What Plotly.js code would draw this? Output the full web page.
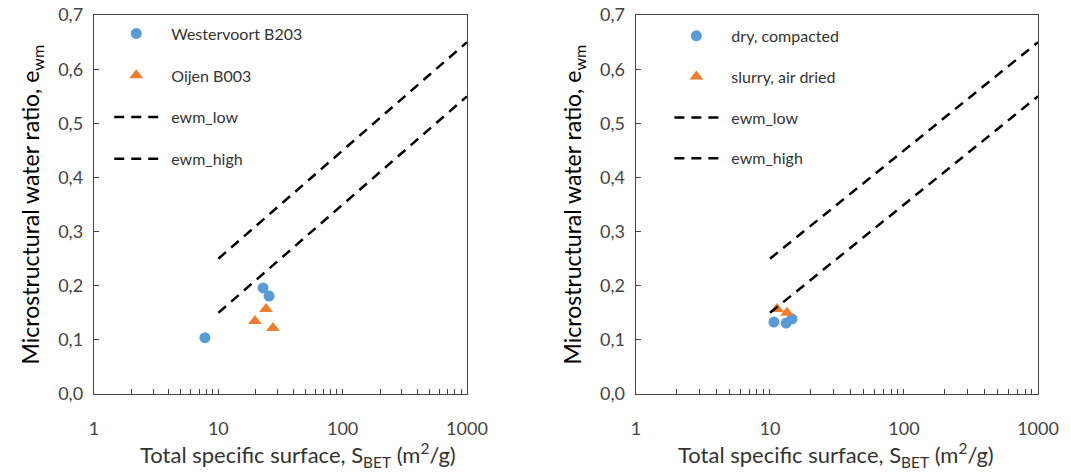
<!DOCTYPE html>
<html>
<head>
<meta charset="utf-8">
<script src="https://cdn.plot.ly/plotly-3.0.1.min.js"></script>
<style>html,body{margin:0;padding:0;background:#fff;}#chart{width:1071px;height:473px;}</style>
</head>
<body>
<div id="chart"></div>
<script>
// Left panel data
const westervoortX = [7.8, 22.9, 25.6];
const westervoortY = [0.104, 0.196, 0.181];
const oijenX = [24.2, 19.7, 27.5];
const oijenY = [0.157, 0.135, 0.122];
// Right panel data
const dryX = [10.7, 13.2, 14.6];
const dryY = [0.133, 0.131, 0.139];
const slurryX = [11.3, 13.4];
const slurryY = [0.157, 0.150];
// Reference lines
const ewmX = [10, 1000];
const ewmLowY = [0.25, 0.65];
const ewmHighY = [0.15, 0.55];
// Tick labels
const xTickVals = [1, 10, 100, 1000];
const xTickText = ['1', '10', '100', '1000'];
const yTickVals = [0, 0.1, 0.2, 0.3, 0.4, 0.5, 0.6, 0.7];
const xTitle = 'Total specific surface, S<sub>BET</sub> (m<sup>2</sup>/g)';
const yTitle = 'Microstructural water ratio, e<sub>wm</sub>';

const blue = '#5B9BD5', orange = '#ED7D31';
const FONT = 'Lato, "Open Sans", sans-serif';
const SP = '\u2002';

function pts(x, y, name, sym, color, size, xa, ya, leg, grp) {
  return {x, y, name: SP + name, type: 'scatter', mode: 'markers', xaxis: xa, yaxis: ya, legend: leg, legendgroup: grp,
    marker: {symbol: sym, color, size, line: {width: 0}}};
}
function line(x, y, name, xa, ya, leg, grp) {
  return {x, y, name: SP + name, type: 'scatter', mode: 'lines', xaxis: xa, yaxis: ya, legend: leg, legendgroup: grp,
    line: {color: '#000', width: 2.5, dash: '10px,7px'}};
}

const data = [
  pts(westervoortX, westervoortY, 'Westervoort B203', 'circle', blue, 11, 'x', 'y', 'legend', 'a1'),
  pts(oijenX, oijenY, 'Oijen B003', 'triangle-up', orange, 12, 'x', 'y', 'legend', 'a2'),
  line(ewmX, ewmLowY, 'ewm_low', 'x', 'y', 'legend', 'a3'),
  line(ewmX, ewmHighY, 'ewm_high', 'x', 'y', 'legend', 'a4'),
  pts(dryX, dryY, 'dry, compacted', 'circle', blue, 11, 'x2', 'y2', 'legend2', 'b1'),
  pts(slurryX, slurryY, 'slurry, air dried', 'triangle-up', orange, 12, 'x2', 'y2', 'legend2', 'b2'),
  line(ewmX, ewmLowY, 'ewm_low', 'x2', 'y2', 'legend2', 'b3'),
  line(ewmX, ewmHighY, 'ewm_high', 'x2', 'y2', 'legend2', 'b4')
];

function xaxis(domain, anchor) {
  return {
    type: 'log', domain, anchor, range: [0, 3], tickvals: xTickVals, ticktext: xTickText,
    ticks: 'inside', ticklen: 5, tickcolor: '#444', showline: true, linecolor: '#444', linewidth: 1.3, mirror: true,
    showgrid: false, zeroline: false, automargin: false, ticklabelstandoff: 18,
    minor: {ticks: 'inside', ticklen: 5, tickcolor: '#444', dtick: 'D1', showgrid: false},
    tickfont: {family: FONT, size: 18, color: '#444'}
  };
}
function yaxis(domain, anchor) {
  return {
    domain, anchor, range: [0, 0.7], tickvals: yTickVals, tickformat: '.1f',
    ticks: 'inside', ticklen: 5, tickcolor: '#444', showline: true, linecolor: '#444', linewidth: 1.3, mirror: true,
    showgrid: false, zeroline: false, automargin: false, ticklabelstandoff: 6,
    tickfont: {family: FONT, size: 18, color: '#444'},
    title: {text: yTitle, font: {family: FONT, size: 23, color: '#000'}, standoff: 12}
  };
}

const legendBase = {
  bgcolor: 'rgba(0,0,0,0)', borderwidth: 0, itemwidth: 44,
  font: {family: FONT, size: 16, color: '#333'}, xanchor: 'left', yanchor: 'top'
};

const titleFont = {family: FONT, size: 22, color: '#333'};

const layout = {
  width: 1071, height: 473,
  margin: {l: 0, r: 0, t: 0, b: 0},
  paper_bgcolor: '#fff', plot_bgcolor: '#fff',
  separators: ',.',
  showlegend: true,
  xaxis: xaxis([0.0878, 0.4360], 'y'),
  yaxis: yaxis([0.167, 0.968], 'x'),
  xaxis2: xaxis([0.5938, 0.9692], 'y2'),
  yaxis2: yaxis([0.167, 0.968], 'x2'),
  legend: Object.assign({}, legendBase, {x: 0.102, y: 0.965, tracegroupgap: 18}),
  legend2: Object.assign({}, legendBase, {x: 0.625, y: 0.96, tracegroupgap: 17}),
  annotations: [
    {text: xTitle, xref: 'paper', yref: 'paper', x: 0.2782, y: 0.038, xanchor: 'center', yanchor: 'middle', showarrow: false, font: titleFont},
    {text: xTitle, xref: 'paper', yref: 'paper', x: 0.7806, y: 0.038, xanchor: 'center', yanchor: 'middle', showarrow: false, font: titleFont}
  ]
};

Plotly.newPlot('chart', data, layout, {displayModeBar: false, staticPlot: true});
</script>
</body>
</html>
